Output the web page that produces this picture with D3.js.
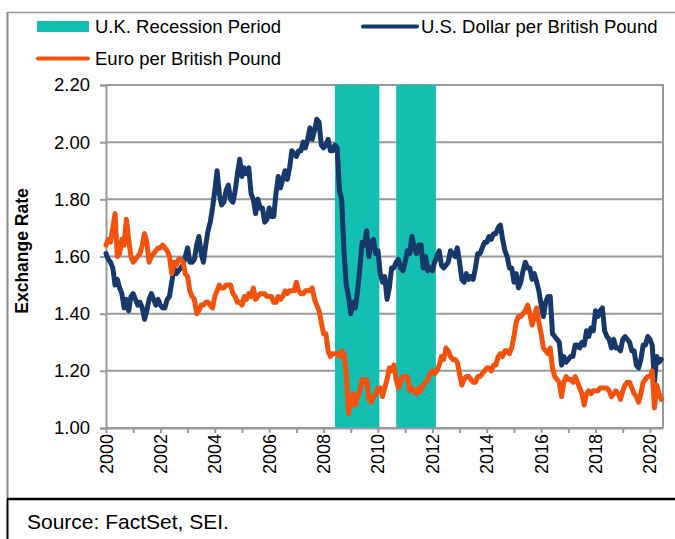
<!DOCTYPE html>
<html><head><meta charset="utf-8">
<script src="https://cdn.jsdelivr.net/npm/d3@7"></script>
<style>
html,body{margin:0;padding:0;background:#fff;}
text{font-family:"Liberation Sans",Arial,sans-serif;fill:#000;}
</style></head>
<body>
<svg id="chart" width="675" height="539"></svg>
<script>
// ---- DATA (monthly, starting Jan 2000) ----
const startYear = 2000;
const usdPerGbp = [
 1.61,1.59,1.58,1.56,1.50,1.52,1.49,1.47,1.42,1.45,1.41,1.46,
 1.47,1.45,1.43,1.44,1.42,1.38,1.41,1.45,1.47,1.45,1.43,1.45,
 1.43,1.42,1.42,1.45,1.46,1.51,1.56,1.54,1.55,1.56,1.57,1.60,
 1.63,1.58,1.58,1.59,1.64,1.67,1.61,1.58,1.64,1.69,1.72,1.77,
 1.83,1.90,1.82,1.78,1.79,1.83,1.85,1.80,1.79,1.83,1.89,1.94,
 1.88,1.91,1.89,1.91,1.82,1.80,1.75,1.80,1.77,1.77,1.72,1.73,
 1.77,1.74,1.74,1.82,1.88,1.84,1.87,1.90,1.87,1.91,1.97,1.96,
 1.95,1.97,1.97,2.00,1.98,2.01,2.05,2.01,2.04,2.08,2.07,1.99,
 1.98,1.99,2.01,1.97,1.97,1.99,1.98,1.83,1.80,1.62,1.50,1.46,
 1.40,1.44,1.42,1.48,1.56,1.65,1.64,1.69,1.60,1.65,1.66,1.61,
 1.62,1.54,1.51,1.53,1.45,1.49,1.56,1.56,1.58,1.59,1.56,1.55,
 1.58,1.62,1.61,1.67,1.63,1.61,1.64,1.64,1.56,1.60,1.55,1.56,
 1.55,1.58,1.60,1.62,1.57,1.56,1.57,1.58,1.62,1.61,1.60,1.63,
 1.58,1.52,1.51,1.54,1.52,1.53,1.52,1.56,1.61,1.61,1.63,1.65,
 1.65,1.67,1.66,1.68,1.68,1.70,1.71,1.66,1.62,1.60,1.56,1.56,
 1.51,1.54,1.49,1.51,1.55,1.58,1.56,1.56,1.52,1.54,1.51,1.48,
 1.43,1.39,1.44,1.46,1.46,1.33,1.32,1.31,1.30,1.22,1.25,1.23,
 1.24,1.25,1.25,1.29,1.29,1.28,1.30,1.29,1.34,1.32,1.35,1.34,
 1.41,1.39,1.41,1.42,1.34,1.32,1.31,1.28,1.31,1.28,1.28,1.27,
 1.31,1.32,1.31,1.30,1.27,1.27,1.22,1.21,1.24,1.29,1.29,1.32,
 1.31,1.29,1.16,1.25,1.23,1.24
];
const eurPerGbp = [
 1.64,1.66,1.65,1.70,1.75,1.60,1.61,1.66,1.64,1.73,1.66,1.60,
 1.58,1.59,1.60,1.61,1.64,1.68,1.65,1.58,1.60,1.61,1.62,1.63,
 1.63,1.64,1.63,1.62,1.60,1.54,1.58,1.57,1.59,1.59,1.58,1.54,
 1.53,1.48,1.46,1.45,1.40,1.41,1.43,1.43,1.44,1.44,1.43,1.42,
 1.46,1.48,1.50,1.49,1.49,1.50,1.50,1.50,1.47,1.46,1.44,1.44,
 1.43,1.46,1.45,1.47,1.46,1.49,1.45,1.46,1.47,1.47,1.47,1.46,
 1.46,1.46,1.44,1.44,1.46,1.45,1.46,1.48,1.47,1.48,1.48,1.48,
 1.51,1.48,1.47,1.47,1.48,1.48,1.48,1.49,1.45,1.43,1.41,1.37,
 1.33,1.33,1.27,1.25,1.26,1.26,1.26,1.25,1.27,1.26,1.19,1.05,
 1.09,1.12,1.08,1.11,1.13,1.17,1.16,1.17,1.10,1.09,1.11,1.12,
 1.14,1.14,1.11,1.14,1.17,1.21,1.20,1.22,1.17,1.14,1.16,1.18,
 1.18,1.18,1.13,1.14,1.13,1.12,1.14,1.13,1.15,1.16,1.17,1.19,
 1.20,1.19,1.20,1.22,1.25,1.24,1.28,1.27,1.25,1.24,1.24,1.23,
 1.19,1.15,1.17,1.18,1.18,1.17,1.16,1.16,1.18,1.18,1.19,1.20,
 1.21,1.21,1.20,1.22,1.22,1.25,1.26,1.25,1.27,1.27,1.26,1.28,
 1.32,1.37,1.39,1.39,1.40,1.41,1.43,1.40,1.36,1.39,1.42,1.37,
 1.33,1.28,1.27,1.26,1.28,1.21,1.18,1.17,1.16,1.11,1.16,1.18,
 1.17,1.17,1.16,1.18,1.16,1.14,1.12,1.08,1.12,1.13,1.12,1.13,
 1.13,1.13,1.14,1.14,1.14,1.14,1.13,1.11,1.12,1.13,1.12,1.10,
 1.13,1.15,1.16,1.16,1.14,1.12,1.11,1.09,1.12,1.16,1.17,1.18,
 1.18,1.20,1.07,1.15,1.12,1.10
];
const recessionStarts = [2008.42, 2010.67];
const recessionEnds   = [2010.05, 2012.13];
const yTicks = [1.00, 1.20, 1.40, 1.60, 1.80, 2.00, 2.20];
const xTickYears = d3.range(2000, 2021);
const xLabelYears = [2000, 2002, 2004, 2006, 2008, 2010, 2012, 2014, 2016, 2018, 2020];
const legendLabels = ["U.K. Recession Period", "U.S. Dollar per British Pound", "Euro per British Pound"];
const yTitle = "Exchange Rate";
const sourceText = "Source: FactSet, SEI.";

// ---- STYLE ----
const C_TEAL = "#14BFB1", C_NAVY = "#16386A", C_ORANGE = "#F2520C", C_GRID = "#999999";
const FS = 18.5;

const svg = d3.select("#chart");
const m = {left:106, right:663, top:85, bottom:428};
const x = d3.scaleLinear().domain([2000, 2020.48]).range([m.left, m.right]);
const y = d3.scaleLinear().domain([1.0, 2.2]).range([m.bottom, m.top]);

// outer frame
svg.append("line").attr("x1",7).attr("x2",675).attr("y1",12.5).attr("y2",12.5).attr("stroke","#999").attr("stroke-width",1.5);
svg.append("line").attr("x1",7.5).attr("x2",7.5).attr("y1",12).attr("y2",499).attr("stroke","#888").attr("stroke-width",2);
svg.append("line").attr("x1",7).attr("x2",675).attr("y1",499).attr("y2",499).attr("stroke","#000").attr("stroke-width",2.5);
svg.append("line").attr("x1",7.5).attr("x2",7.5).attr("y1",499).attr("y2",539).attr("stroke","#000").attr("stroke-width",2);
svg.append("text").attr("x",27).attr("y",529).attr("font-size",21).text(sourceText);

// gridlines
svg.append("g").selectAll("line").data(yTicks).join("line")
  .attr("x1",m.left).attr("x2",m.right).attr("y1",d=>y(d)).attr("y2",d=>y(d))
  .attr("stroke",C_GRID).attr("stroke-width",2);

// recession bands
const bands = recessionStarts.map((s,i)=>({s, e:recessionEnds[i]}));
svg.append("g").selectAll("rect").data(bands).join("rect")
  .attr("x",d=>x(d.s)).attr("width",d=>x(d.e)-x(d.s))
  .attr("y",m.top).attr("height",m.bottom-m.top).attr("fill",C_TEAL);

// right border
svg.append("line").attr("x1",m.right).attr("x2",m.right).attr("y1",m.top-1).attr("y2",m.bottom).attr("stroke",C_GRID).attr("stroke-width",2);

// axes
const yAxis = d3.axisLeft(y).tickValues(yTicks).tickFormat(d3.format(".2f")).tickSize(6).tickPadding(10);
const gy = svg.append("g").attr("transform",`translate(${m.left},0)`).call(yAxis);
gy.select(".domain").attr("stroke",C_GRID).attr("stroke-width",2);
gy.selectAll(".tick line").attr("stroke",C_GRID).attr("stroke-width",2);
gy.selectAll(".tick text").attr("font-size",FS).attr("font-family","Liberation Sans, Arial, sans-serif").attr("fill","#000");

const xAxis = d3.axisBottom(x).tickValues(xTickYears).tickFormat("").tickSize(5).tickSizeOuter(0);
const gx = svg.append("g").attr("transform",`translate(0,${m.bottom})`).call(xAxis);
gx.select(".domain").attr("stroke",C_GRID).attr("stroke-width",2);
gx.selectAll(".tick line").attr("stroke",C_GRID).attr("stroke-width",2);
svg.append("g").selectAll("text").data(xLabelYears).join("text")
  .attr("transform",d=>`translate(${x(d)+6.5},${m.bottom+6}) rotate(-90)`)
  .attr("text-anchor","end").attr("font-size",18).text(d=>d);

// y title
svg.append("text").attr("transform",`translate(28,251) rotate(-90)`)
  .attr("text-anchor","middle").attr("font-size",17.5).attr("font-weight","bold").text(yTitle);

// lines
const line = d3.line().x((d,i)=>x(startYear + i/12)).y(d=>y(d)).curve(d3.curveLinear);
svg.append("path").datum(usdPerGbp).attr("d",line).attr("fill","none")
  .attr("stroke",C_NAVY).attr("stroke-width",5).attr("stroke-linejoin","round").attr("stroke-linecap","round");
svg.append("path").datum(eurPerGbp).attr("d",line).attr("fill","none")
  .attr("stroke",C_ORANGE).attr("stroke-width",5).attr("stroke-linejoin","round").attr("stroke-linecap","round");

// legend
const lg = svg.append("g");
lg.append("rect").attr("x",37).attr("y",21).attr("width",52).attr("height",11).attr("fill",C_TEAL);
lg.append("text").attr("x",95).attr("y",33).attr("font-size",FS).text(legendLabels[0]);
lg.append("line").attr("x1",363).attr("x2",417).attr("y1",26.5).attr("y2",26.5).attr("stroke",C_NAVY).attr("stroke-width",4).attr("stroke-linecap","round");
lg.append("text").attr("x",421).attr("y",33).attr("font-size",FS).text(legendLabels[1]);
lg.append("line").attr("x1",38).attr("x2",88).attr("y1",58.5).attr("y2",58.5).attr("stroke",C_ORANGE).attr("stroke-width",4).attr("stroke-linecap","round");
lg.append("text").attr("x",95).attr("y",65).attr("font-size",FS).text(legendLabels[2]);
</script>
</body></html>
